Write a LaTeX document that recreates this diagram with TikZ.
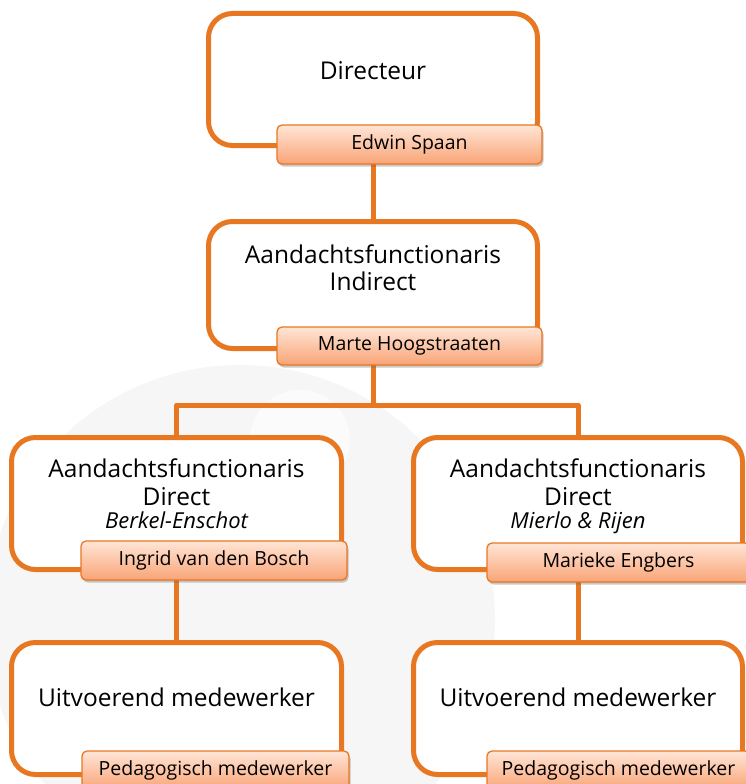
\documentclass[tikz,border=0pt]{standalone}
\usepackage{fontspec}
\setmainfont{Open Sans}
\usetikzlibrary{shadows}
\definecolor{org}{RGB}{232,119,34}
\definecolor{labtop}{RGB}{255,229,214}
\definecolor{labbot}{RGB}{249,164,118}
\definecolor{wm}{RGB}{246,246,246}
\definecolor{wmlight}{RGB}{251,251,251}
\begin{document}
\begin{tikzpicture}[x=1pt,y=-1pt,
  box/.style={inner sep=0pt, outer sep=0pt},
  boxline/.style={draw=org, line width=5pt, rounded corners=24pt, fill=white},
  lab/.style={draw=org, line width=1.3pt, rounded corners=5pt, top color=labtop, bottom color=labbot,
    font=\fontsize{19.5}{23}\selectfont, inner sep=0pt, outer sep=0pt,
    drop shadow={shadow xshift=1.5pt, shadow yshift=-2.5pt, opacity=0.35, fill=black!60}},
  ttl/.style={font=\fontsize{24.5}{28}\selectfont, anchor=base, inner sep=0pt},
  sub/.style={font=\fontsize{22}{25}\selectfont\itshape, anchor=base, inner sep=0pt},
  conn/.style={draw=org, line width=5pt}]
\useasboundingbox (0,0) rectangle (745,784);
\fill[white] (0,0) rectangle (745,784);
% faint watermark
\begin{scope}
\clip (0,0) rectangle (745,784);
\fill[wm] (240,620) circle (255);
\fill[wmlight] (300,440) circle (50);
\end{scope}
% box geometry
\node[box, minimum width=329pt, minimum height=132pt] (box1) at (373,79.5) {};
\node[box, minimum width=329pt, minimum height=127pt] (box2) at (373,285) {};
\node[box, minimum width=330pt, minimum height=132pt] (box3L) at (176.5,503.5) {};
\node[box, minimum width=329pt, minimum height=132pt] (box3R) at (578,503.5) {};
\node[box, minimum width=330pt, minimum height=132pt] (box4L) at (176.5,708.5) {};
\node[box, minimum width=329pt, minimum height=132pt] (box4R) at (578,708.5) {};
\coordinate (split) at (373,405);
% connectors
\draw[conn] (box1.south) -- (box2.north);
\draw[conn] (box2.south) -- (split);
\draw[conn, line join=round] (box3L.north) |- (split) -| (box3R.north);
\draw[conn] (box3L.south) -- (box4L.north);
\draw[conn] (box3R.south) -- (box4R.north);
% visible boxes
\foreach \b in {box1,box2,box3L,box3R,box4L,box4R}{
  \draw[boxline] (\b.south west) rectangle (\b.north east);
}
% titles
\node[ttl] (t1) at (373,80) {Directeur};
\node[ttl] (t2a) at (373,263) {Aandachtsfunctionaris};
\node[ttl] (t2b) at (373,290) {Indirect};
\node[ttl] (t3La) at (176.5,477) {Aandachtsfunctionaris};
\node[ttl] (t3Lb) at (176.5,505) {Direct};
\node[sub] (t3Lc) at (176.5,528) {Berkel-Enschot};
\node[ttl] (t3Ra) at (578,477) {Aandachtsfunctionaris};
\node[ttl] (t3Rb) at (578,505) {Direct};
\node[sub] (t3Rc) at (578,528) {Mierlo \& Rijen};
\node[ttl] (t4L) at (176.5,706) {Uitvoerend medewerker};
\node[ttl] (t4R) at (578,706) {Uitvoerend medewerker};
% name labels
\node[lab, minimum width=265pt, minimum height=39pt] (lab1) at (409.5,144.5) {Edwin Spaan};
\node[lab, minimum width=265pt, minimum height=38pt] (lab2) at (409.5,346) {Marte Hoogstraaten};
\node[lab, minimum width=266pt, minimum height=39pt] (lab3L) at (214,560.5) {Ingrid van den Bosch};
\node[lab, minimum width=263pt, minimum height=39pt] (lab3R) at (618.5,562.5) {Marieke Engbers};
\node[lab, minimum width=267pt, minimum height=39pt] (lab4L) at (215.5,770.5) {Pedagogisch medewerker};
\node[lab, minimum width=263pt, minimum height=39pt] (lab4R) at (618.5,770.5) {Pedagogisch medewerker};
\end{tikzpicture}
\end{document}
